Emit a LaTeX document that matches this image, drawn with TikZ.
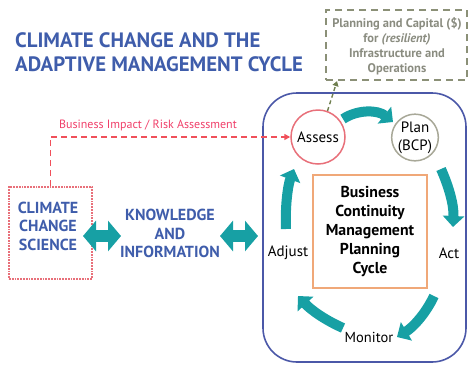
\documentclass[tikz,border=0pt]{standalone}
\usepackage{fontspec}
\setmainfont{PT Sans}
\usetikzlibrary{arrows.meta}
\definecolor{ttl}{HTML}{3F5DAB}
\definecolor{frame}{HTML}{4B58A8}
\definecolor{teal}{HTML}{17A0A4}
\definecolor{redline}{HTML}{F0505A}
\definecolor{redtxt}{HTML}{F0406A}
\definecolor{redbox}{HTML}{E8707A}
\definecolor{olive}{HTML}{8B9077}
\definecolor{olivearrow}{HTML}{6F7F4F}
\definecolor{graytxt}{HTML}{8A8C80}
\definecolor{plangray}{HTML}{A8A898}
\definecolor{orangebox}{HTML}{F0A878}
\begin{document}
\begin{tikzpicture}[x=1pt,y=-1pt,
  cyc/.style={teal, line width=10pt, -{Triangle[width=21pt,length=11pt]}},
  dbl/.style={teal, line width=12pt, {Triangle[width=30pt,length=13pt]}-{Triangle[width=30pt,length=13pt]}},
  bluetxt/.style={text=ttl, font=\fontsize{16}{18.5}\selectfont\bfseries, align=center, inner sep=0},
  small/.style={font=\fontsize{15}{17}\selectfont, inner sep=0}
]
\useasboundingbox (0,0) rectangle (469,368);
% title
\node[anchor=north west, inner sep=0, align=left, text=ttl, font=\fontsize{20.8}{24.5}\selectfont\bfseries] (title) at (15,32) {CLIMATE CHANGE AND THE\\ADAPTIVE MANAGEMENT CYCLE};
% dashed box top right
\node[draw=olive, dashed, dash pattern=on 7pt off 5pt, line width=2.2pt, minimum width=141pt, minimum height=70pt, inner sep=0] (capital) at (396.5,45) {};
\node[text=graytxt, font=\fontsize{12.5}{15}\selectfont\bfseries, align=center, inner sep=0] (captxt) at (397,46.5) {Planning and Capital (\$)\\for \textit{(resilient)}\\Infrastructure and\\Operations};
% big frame
\draw[frame, line width=1.6pt, rounded corners=34pt] (263,93) rectangle (466,362);
% circles
\node[draw=redbox, fill=white, circle, line width=1.5pt, minimum size=54pt, inner sep=0, small] (assess) at (318,137) {Assess};
\node[draw=plangray, fill=white, circle, line width=1.5pt, minimum size=44pt, inner sep=0, small, align=center, font=\fontsize{15}{18}\selectfont] (plan) at (415,137.5) {Plan\\(BCP)};
% center box
\node[draw=orangebox, line width=1.5pt, minimum width=114pt, minimum height=113pt, inner sep=0, align=center, font=\fontsize{15.8}{19}\selectfont\bfseries] (bcm) at (370,231.5) {Business\\Continuity\\Management\\Planning\\Cycle};
% labels
\node[small] (adjust) at (288,253) {Adjust};
\node[small] (act) at (449,253) {Act};
\node[small, font=\fontsize{14.5}{17}\selectfont] (monitor) at (369,337) {Monitor};
% cycle arrows
\coordinate (t1) at (343,119); \coordinate (t2) at (393,122);
\coordinate (r1) at (441,169); \coordinate (r2) at (453,227);
\coordinate (b1) at (434,296); \coordinate (b2) at (397,337);
\coordinate (l1) at (343,328); \coordinate (l2) at (298,296);
\coordinate (a1) at (286,229); \coordinate (a2) at (294,169);
\draw[cyc] (t1) .. controls (358,109) and (378,110) .. (t2);
\draw[cyc] (r1) .. controls (449,187) and (454,205) .. (r2);
\draw[cyc] (b1) .. controls (425,315) and (412,328) .. (b2);
\draw[cyc] (l1) .. controls (325,320) and (311,310) .. (l2);
\draw[cyc] (a1) .. controls (285,205) and (288,185) .. (a2);
% climate box
\node[draw=redbox, densely dotted, line width=1.8pt, minimum width=83pt, minimum height=92pt, inner sep=0] (climate) at (50.5,233) {};
\node[bluetxt] (climtxt) at (48,226) {CLIMATE\\CHANGE\\SCIENCE};
\node[bluetxt] (know) at (170,233.5) {KNOWLEDGE\\AND\\INFORMATION};
% double arrows
\coordinate (d1) at (83,236); \coordinate (d2) at (121,236);
\coordinate (d3) at (220,236); \coordinate (d4) at (258,236);
\draw[dbl] (d1) -- (d2);
\draw[dbl] (d3) -- (d4);
% red dashed risk line
\draw[redline, dashed, dash pattern=on 6pt off 4pt, line width=1.6pt, -{Triangle[width=6pt,length=6pt]}] (climate.north) |- (assess.west);
\node[text=redtxt, font=\fontsize{12}{14}\selectfont, inner sep=0] (risk) at (148,125) {Business Impact / Risk Assessment};
% olive dashed arrow
\draw[olivearrow, dashed, dash pattern=on 4pt off 3pt, line width=1.4pt, -{Triangle[width=6pt,length=5pt]}] (assess.70) -- (capital.south west -| 337,0);
\end{tikzpicture}
\end{document}
